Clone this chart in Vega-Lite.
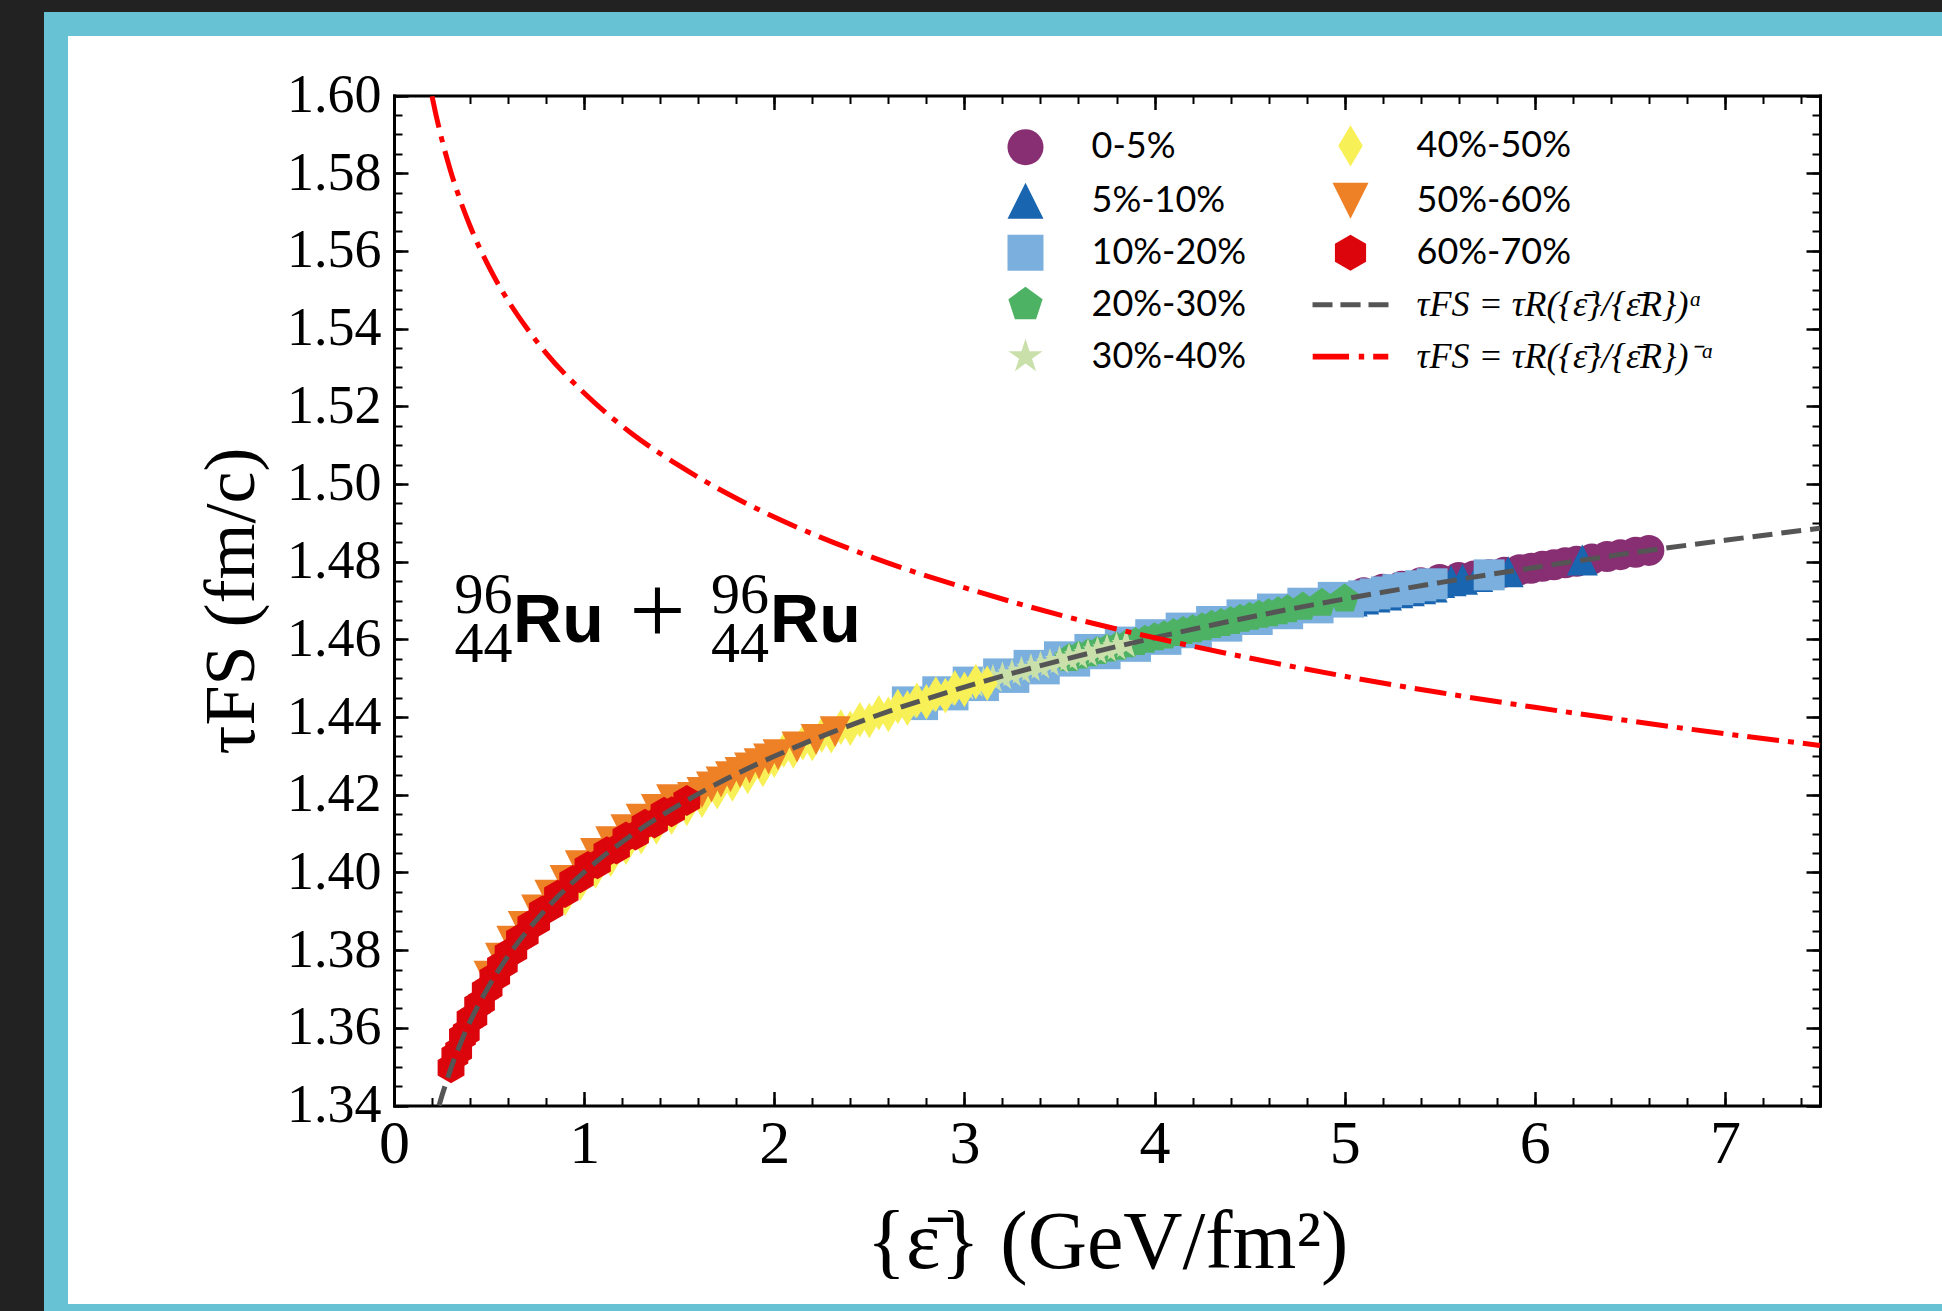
{
"$schema": "https://vega.github.io/schema/vega-lite/v6.json",
"autosize": {"type": "none"},
"width": 1898,
"height": 1292,
"padding": {"left": 56, "top": 24, "right": -12, "bottom": -5},
"background": "#222222",
"config": {
 "view": {"stroke": "#67c3d3", "strokeWidth": 24, "fill": "white"},
 "axis": {"grid": false, "domainColor": "black", "tickColor": "black", "labelColor": "black", "titleColor": "black", "domainCap": "square"}
},
"datasets": {
 "pts": [
  {"c":"0-5%","e":5.10,"t":1.4720},{"c":"0-5%","e":5.20,"t":1.4729},{"c":"0-5%","e":5.30,"t":1.4737},{"c":"0-5%","e":5.40,"t":1.4746},{"c":"0-5%","e":5.50,"t":1.4754},{"c":"0-5%","e":5.60,"t":1.4759},{"c":"0-5%","e":5.68,"t":1.4763},{"c":"0-5%","e":5.76,"t":1.4766},{"c":"0-5%","e":5.84,"t":1.4773},{"c":"0-5%","e":5.92,"t":1.4779},{"c":"0-5%","e":5.98,"t":1.4783},{"c":"0-5%","e":6.04,"t":1.4788},{"c":"0-5%","e":6.10,"t":1.4792},{"c":"0-5%","e":6.16,"t":1.4797},{"c":"0-5%","e":6.22,"t":1.4801},{"c":"0-5%","e":6.30,"t":1.4807},{"c":"0-5%","e":6.38,"t":1.4813},{"c":"0-5%","e":6.45,"t":1.4818},{"c":"0-5%","e":6.53,"t":1.4824},{"c":"0-5%","e":6.60,"t":1.4829},
  {"c":"5%-10%","e":5.04,"t":1.4699},{"c":"5%-10%","e":5.10,"t":1.4704},{"c":"5%-10%","e":5.16,"t":1.4709},{"c":"5%-10%","e":5.22,"t":1.4714},{"c":"5%-10%","e":5.28,"t":1.4720},{"c":"5%-10%","e":5.34,"t":1.4725},{"c":"5%-10%","e":5.40,"t":1.4730},{"c":"5%-10%","e":5.46,"t":1.4735},{"c":"5%-10%","e":5.50,"t":1.4746},{"c":"5%-10%","e":5.56,"t":1.4751},{"c":"5%-10%","e":5.62,"t":1.4755},{"c":"5%-10%","e":5.70,"t":1.4762},{"c":"5%-10%","e":5.86,"t":1.4774},{"c":"5%-10%","e":6.25,"t":1.4804},
  {"c":"10%-20%","e":2.70,"t":1.4439},{"c":"10%-20%","e":2.78,"t":1.4432},{"c":"10%-20%","e":2.86,"t":1.4465},{"c":"10%-20%","e":2.94,"t":1.4457},{"c":"10%-20%","e":3.02,"t":1.4490},{"c":"10%-20%","e":3.10,"t":1.4481},{"c":"10%-20%","e":3.18,"t":1.4511},{"c":"10%-20%","e":3.26,"t":1.4502},{"c":"10%-20%","e":3.34,"t":1.4533},{"c":"10%-20%","e":3.42,"t":1.4524},{"c":"10%-20%","e":3.50,"t":1.4555},{"c":"10%-20%","e":3.58,"t":1.4544},{"c":"10%-20%","e":3.66,"t":1.4574},{"c":"10%-20%","e":3.74,"t":1.4563},{"c":"10%-20%","e":3.82,"t":1.4593},{"c":"10%-20%","e":3.90,"t":1.4582},{"c":"10%-20%","e":3.98,"t":1.4612},{"c":"10%-20%","e":4.06,"t":1.4600},{"c":"10%-20%","e":4.14,"t":1.4629},{"c":"10%-20%","e":4.22,"t":1.4617},{"c":"10%-20%","e":4.30,"t":1.4646},{"c":"10%-20%","e":4.38,"t":1.4634},{"c":"10%-20%","e":4.46,"t":1.4663},{"c":"10%-20%","e":4.54,"t":1.4651},{"c":"10%-20%","e":4.62,"t":1.4678},{"c":"10%-20%","e":4.70,"t":1.4666},{"c":"10%-20%","e":4.78,"t":1.4693},{"c":"10%-20%","e":4.86,"t":1.4681},{"c":"10%-20%","e":4.94,"t":1.4708},{"c":"10%-20%","e":5.02,"t":1.4696},{"c":"10%-20%","e":5.10,"t":1.4712},{"c":"10%-20%","e":5.16,"t":1.4717},{"c":"10%-20%","e":5.22,"t":1.4722},{"c":"10%-20%","e":5.28,"t":1.4728},{"c":"10%-20%","e":5.34,"t":1.4733},{"c":"10%-20%","e":5.40,"t":1.4738},{"c":"10%-20%","e":5.46,"t":1.4743},{"c":"10%-20%","e":5.76,"t":1.4766},
  {"c":"20%-30%","e":3.55,"t":1.4551},{"c":"20%-30%","e":3.60,"t":1.4557},{"c":"20%-30%","e":3.65,"t":1.4563},{"c":"20%-30%","e":3.70,"t":1.4569},{"c":"20%-30%","e":3.75,"t":1.4575},{"c":"20%-30%","e":3.80,"t":1.4580},{"c":"20%-30%","e":3.85,"t":1.4586},{"c":"20%-30%","e":3.90,"t":1.4592},{"c":"20%-30%","e":3.95,"t":1.4598},{"c":"20%-30%","e":4.00,"t":1.4604},{"c":"20%-30%","e":4.05,"t":1.4609},{"c":"20%-30%","e":4.10,"t":1.4615},{"c":"20%-30%","e":4.15,"t":1.4620},{"c":"20%-30%","e":4.20,"t":1.4625},{"c":"20%-30%","e":4.25,"t":1.4630},{"c":"20%-30%","e":4.30,"t":1.4636},{"c":"20%-30%","e":4.35,"t":1.4641},{"c":"20%-30%","e":4.40,"t":1.4646},{"c":"20%-30%","e":4.45,"t":1.4652},{"c":"20%-30%","e":4.50,"t":1.4657},{"c":"20%-30%","e":4.55,"t":1.4662},{"c":"20%-30%","e":4.60,"t":1.4666},{"c":"20%-30%","e":4.65,"t":1.4671},{"c":"20%-30%","e":4.70,"t":1.4676},{"c":"20%-30%","e":4.78,"t":1.4683},{"c":"20%-30%","e":4.88,"t":1.4693},{"c":"20%-30%","e":5.00,"t":1.4704},
  {"c":"30%-40%","e":2.70,"t":1.4429},{"c":"30%-40%","e":2.75,"t":1.4437},{"c":"30%-40%","e":2.80,"t":1.4445},{"c":"30%-40%","e":2.85,"t":1.4453},{"c":"30%-40%","e":2.90,"t":1.4461},{"c":"30%-40%","e":2.95,"t":1.4469},{"c":"30%-40%","e":3.00,"t":1.4477},{"c":"30%-40%","e":3.05,"t":1.4484},{"c":"30%-40%","e":3.10,"t":1.4491},{"c":"30%-40%","e":3.15,"t":1.4497},{"c":"30%-40%","e":3.20,"t":1.4504},{"c":"30%-40%","e":3.25,"t":1.4511},{"c":"30%-40%","e":3.30,"t":1.4518},{"c":"30%-40%","e":3.35,"t":1.4525},{"c":"30%-40%","e":3.40,"t":1.4531},{"c":"30%-40%","e":3.45,"t":1.4538},{"c":"30%-40%","e":3.50,"t":1.4545},{"c":"30%-40%","e":3.55,"t":1.4551},{"c":"30%-40%","e":3.60,"t":1.4557},{"c":"30%-40%","e":3.65,"t":1.4563},{"c":"30%-40%","e":3.70,"t":1.4569},{"c":"30%-40%","e":3.75,"t":1.4575},{"c":"30%-40%","e":3.80,"t":1.4580},{"c":"30%-40%","e":3.85,"t":1.4586},
  {"c":"40%-50%","e":0.90,"t":1.3934},{"c":"40%-50%","e":0.98,"t":1.3972},{"c":"40%-50%","e":1.06,"t":1.4004},{"c":"40%-50%","e":1.14,"t":1.4034},{"c":"40%-50%","e":1.22,"t":1.4065},{"c":"40%-50%","e":1.30,"t":1.4092},{"c":"40%-50%","e":1.38,"t":1.4117},{"c":"40%-50%","e":1.46,"t":1.4142},{"c":"40%-50%","e":1.54,"t":1.4165},{"c":"40%-50%","e":1.62,"t":1.4186},{"c":"40%-50%","e":1.70,"t":1.4208},{"c":"40%-50%","e":1.78,"t":1.4228},{"c":"40%-50%","e":1.86,"t":1.4247},{"c":"40%-50%","e":1.94,"t":1.4265},{"c":"40%-50%","e":2.00,"t":1.4289},{"c":"40%-50%","e":2.05,"t":1.4315},{"c":"40%-50%","e":2.10,"t":1.4313},{"c":"40%-50%","e":2.15,"t":1.4334},{"c":"40%-50%","e":2.20,"t":1.4332},{"c":"40%-50%","e":2.25,"t":1.4354},{"c":"40%-50%","e":2.30,"t":1.4352},{"c":"40%-50%","e":2.35,"t":1.4374},{"c":"40%-50%","e":2.40,"t":1.4371},{"c":"40%-50%","e":2.45,"t":1.4393},{"c":"40%-50%","e":2.50,"t":1.4391},{"c":"40%-50%","e":2.55,"t":1.4411},{"c":"40%-50%","e":2.60,"t":1.4407},{"c":"40%-50%","e":2.65,"t":1.4427},{"c":"40%-50%","e":2.70,"t":1.4423},{"c":"40%-50%","e":2.75,"t":1.4443},{"c":"40%-50%","e":2.80,"t":1.4439},{"c":"40%-50%","e":2.85,"t":1.4459},{"c":"40%-50%","e":2.90,"t":1.4455},{"c":"40%-50%","e":2.95,"t":1.4475},{"c":"40%-50%","e":3.00,"t":1.4471},{"c":"40%-50%","e":3.06,"t":1.4491},{"c":"40%-50%","e":3.12,"t":1.4487},
  {"c":"50%-60%","e":0.50,"t":1.3733},{"c":"50%-60%","e":0.56,"t":1.3779},{"c":"50%-60%","e":0.62,"t":1.3823},{"c":"50%-60%","e":0.68,"t":1.3861},{"c":"50%-60%","e":0.75,"t":1.3903},{"c":"50%-60%","e":0.82,"t":1.3941},{"c":"50%-60%","e":0.90,"t":1.3979},{"c":"50%-60%","e":0.98,"t":1.4017},{"c":"50%-60%","e":1.06,"t":1.4049},{"c":"50%-60%","e":1.14,"t":1.4079},{"c":"50%-60%","e":1.22,"t":1.4110},{"c":"50%-60%","e":1.30,"t":1.4137},{"c":"50%-60%","e":1.38,"t":1.4162},{"c":"50%-60%","e":1.46,"t":1.4187},{"c":"50%-60%","e":1.52,"t":1.4179},{"c":"50%-60%","e":1.57,"t":1.4193},{"c":"50%-60%","e":1.62,"t":1.4206},{"c":"50%-60%","e":1.67,"t":1.4220},{"c":"50%-60%","e":1.72,"t":1.4233},{"c":"50%-60%","e":1.77,"t":1.4246},{"c":"50%-60%","e":1.82,"t":1.4257},{"c":"50%-60%","e":1.87,"t":1.4269},{"c":"50%-60%","e":1.92,"t":1.4280},{"c":"50%-60%","e":1.97,"t":1.4292},{"c":"50%-60%","e":2.02,"t":1.4303},{"c":"50%-60%","e":2.12,"t":1.4323},{"c":"50%-60%","e":2.22,"t":1.4342},{"c":"50%-60%","e":2.32,"t":1.4362},
  {"c":"60%-70%","e":0.30,"t":1.3497},{"c":"60%-70%","e":0.32,"t":1.3528},{"c":"60%-70%","e":0.34,"t":1.3541},{"c":"60%-70%","e":0.36,"t":1.3577},{"c":"60%-70%","e":0.38,"t":1.3588},{"c":"60%-70%","e":0.40,"t":1.3622},{"c":"60%-70%","e":0.42,"t":1.3628},{"c":"60%-70%","e":0.44,"t":1.3659},{"c":"60%-70%","e":0.46,"t":1.3665},{"c":"60%-70%","e":0.48,"t":1.3696},{"c":"60%-70%","e":0.50,"t":1.3702},{"c":"60%-70%","e":0.52,"t":1.3729},{"c":"60%-70%","e":0.54,"t":1.3733},{"c":"60%-70%","e":0.56,"t":1.3760},{"c":"60%-70%","e":0.58,"t":1.3764},{"c":"60%-70%","e":0.60,"t":1.3791},{"c":"60%-70%","e":0.63,"t":1.3798},{"c":"60%-70%","e":0.66,"t":1.3829},{"c":"60%-70%","e":0.69,"t":1.3837},{"c":"60%-70%","e":0.72,"t":1.3866},{"c":"60%-70%","e":0.75,"t":1.3872},{"c":"60%-70%","e":0.78,"t":1.3901},{"c":"60%-70%","e":0.82,"t":1.3910},{"c":"60%-70%","e":0.86,"t":1.3941},{"c":"60%-70%","e":0.90,"t":1.3948},{"c":"60%-70%","e":0.94,"t":1.3979},{"c":"60%-70%","e":0.98,"t":1.3986},{"c":"60%-70%","e":1.02,"t":1.4015},{"c":"60%-70%","e":1.07,"t":1.4022},{"c":"60%-70%","e":1.12,"t":1.4053},{"c":"60%-70%","e":1.17,"t":1.4060},{"c":"60%-70%","e":1.22,"t":1.4091},{"c":"60%-70%","e":1.27,"t":1.4096},{"c":"60%-70%","e":1.32,"t":1.4124},{"c":"60%-70%","e":1.37,"t":1.4127},{"c":"60%-70%","e":1.42,"t":1.4155},{"c":"60%-70%","e":1.46,"t":1.4156},{"c":"60%-70%","e":1.54,"t":1.4185}
 ],
 "dash": [
  {"e":0.237,"t":1.3400},{"e":0.25,"t":1.3422},{"e":0.28,"t":1.3467},{"e":0.30,"t":1.3497},{"e":0.35,"t":1.3560},{"e":0.40,"t":1.3616},{"e":0.45,"t":1.3664},{"e":0.50,"t":1.3708},{"e":0.60,"t":1.3785},{"e":0.70,"t":1.3849},{"e":0.80,"t":1.3906},{"e":0.90,"t":1.3956},{"e":1.00,"t":1.4001},{"e":1.25,"t":1.4096},{"e":1.50,"t":1.4174},{"e":1.75,"t":1.4241},{"e":2.00,"t":1.4299},{"e":2.50,"t":1.4397},{"e":3.00,"t":1.4477},{"e":3.50,"t":1.4545},{"e":4.00,"t":1.4604},{"e":4.50,"t":1.4657},{"e":5.00,"t":1.4704},{"e":5.50,"t":1.4746},{"e":6.00,"t":1.4785},{"e":6.50,"t":1.4822},{"e":7.00,"t":1.4855},{"e":7.50,"t":1.4886}
 ],
 "dd": [
  {"e":0.20,"t":1.5998},{"e":0.22,"t":1.5952},{"e":0.25,"t":1.5890},{"e":0.30,"t":1.5802},{"e":0.35,"t":1.5728},{"e":0.40,"t":1.5664},{"e":0.50,"t":1.5558},{"e":0.60,"t":1.5472},{"e":0.70,"t":1.5400},{"e":0.80,"t":1.5337},{"e":1.00,"t":1.5234},{"e":1.25,"t":1.5130},{"e":1.50,"t":1.5047},{"e":1.75,"t":1.4976},{"e":2.00,"t":1.4915},{"e":2.50,"t":1.4814},{"e":3.00,"t":1.4733},{"e":3.50,"t":1.4663},{"e":4.00,"t":1.4604},{"e":4.50,"t":1.4552},{"e":5.00,"t":1.4505},{"e":5.50,"t":1.4463},{"e":6.00,"t":1.4425},{"e":6.50,"t":1.4390},{"e":7.00,"t":1.4357},{"e":7.50,"t":1.4327}
 ],
 "nums": [
  {"e":0.471,"t":1.4668,"s":"96"},{"e":0.471,"t":1.4542,"s":"44"},{"e":1.820,"t":1.4668,"s":"96"},{"e":1.820,"t":1.4542,"s":"44"}
 ],
 "plus": [{"e":1.386,"t":1.4587,"s":"+"}],
 "ru": [{"e":0.626,"t":1.4593,"s":"Ru"},{"e":1.978,"t":1.4593,"s":"Ru"}]
},
"resolve": {"axis": {"x": "independent", "y": "independent"}},
"layer": [
 {
  "data": {"name": "pts"},
  "mark": {"type": "point", "filled": true, "size": 960, "opacity": 1, "strokeWidth": 0},
  "encoding": {
   "x": {"field": "e", "type": "quantitative",
     "scale": {"domain": [0, 7.5], "range": [338, 1764], "nice": false, "zero": false},
     "axis": {"orient": "bottom", "offset": -210.5, "values": [0,1,2,3,4,5,6,7], "format": "d", "ticks": false, "domain": false, "labelFont": "Liberation Serif", "labelFontSize": 62, "labelPadding": 8, "labelFlush": false, "labelOverlap": false, "labelBaseline": "top", "title": "{ε̄} (GeV/fm²)", "titleFont": "Liberation Serif", "titleFontSize": 82, "titleFontWeight": "normal", "titleBaseline": "alphabetic", "titleY": 161.5}},
   "y": {"field": "t", "type": "quantitative",
     "scale": {"domain": [1.34, 1.6], "range": [1081.5, 71.5], "nice": false, "zero": false},
     "axis": {"orient": "left", "offset": -338, "values": [1.34,1.36,1.38,1.4,1.42,1.44,1.46,1.48,1.5,1.52,1.54,1.56,1.58,1.6], "format": ".2f", "ticks": false, "domain": false, "labelFont": "Liberation Serif", "labelFontSize": 54, "labelPadding": 13, "labelFlush": false, "labelOverlap": false, "title": "τFS (fm/c)", "titleFont": "Liberation Serif", "titleFontSize": 72, "titleFontWeight": "normal", "titleBaseline": "alphabetic", "titleAngle": -90, "titleX": -141}},
   "color": {"field": "c", "type": "nominal",
     "scale": {"domain": ["0-5%","5%-10%","10%-20%","20%-30%","30%-40%","40%-50%","50%-60%","60%-70%","τFS = τR({ε̄}/{ε̄R})ᵅ","τFS = τR({ε̄}/{ε̄R})⁻ᵅ"],
               "range": ["#882E72","#1965B0","#7BAFDE","#4EB265","#CAE0AB","#F7F056","#EE8026","#DC050C","#555555","#FF0000"]},
     "legend": {"orient": "none", "legendX": 951.5, "legendY": 103.7, "columns": 2, "title": null, "padding": 0, "symbolSize": 1296, "symbolStrokeWidth": 0, "symbolOpacity": 1, "labelFont": "Lato", "labelFontSize": 36, "labelColor": "black", "labelOffset": 48, "labelLimit": 600, "rowPadding": 16, "columnPadding": 66,
       "encode": {"labels": {"update": {"font": {"signal": "indexof(datum.label, '=') >= 0 ? 'Liberation Serif' : 'Lato'"}, "fontStyle": {"signal": "indexof(datum.label, '=') >= 0 ? 'italic' : 'normal'"}}}}}},
   "shape": {"field": "c", "type": "nominal",
     "scale": {"domain": ["0-5%","5%-10%","10%-20%","20%-30%","30%-40%","40%-50%","50%-60%","60%-70%","τFS = τR({ε̄}/{ε̄R})ᵅ","τFS = τR({ε̄}/{ε̄R})⁻ᵅ"],
               "range": ["circle",
                         "M0,-1L1,1L-1,1Z",
                         "square",
                         "M0,-1L0.951,-0.309L0.588,0.809L-0.588,0.809L-0.951,-0.309Z",
                         "M0,-1L0.225,-0.309L0.951,-0.309L0.363,0.118L0.588,0.809L0,0.382L-0.588,0.809L-0.363,0.118L-0.951,-0.309L-0.225,-0.309Z",
                         "M0,-1.15L0.68,0L0,1.15L-0.68,0Z",
                         "M-1,-1L1,-1L0,1Z",
                         "M0,-1L0.866,-0.5L0.866,0.5L0,1L-0.866,0.5L-0.866,-0.5Z",
                         "M-2.11,-0.14H-1V0.14H-2.11Z M-0.56,-0.14H0.56V0.14H-0.56Z M1,-0.14H2.11V0.14H1Z",
                         "M-2.1,-0.16H-0.08V0.16H-2.1Z M0.46,-0.16H0.76V0.16H0.46Z M1.26,-0.16H2.1V0.16H1.26Z"]},
     "legend": {"orient": "none", "legendX": 951.5, "legendY": 103.7, "columns": 2, "title": null, "padding": 0, "symbolSize": 1296, "symbolStrokeWidth": 0, "symbolOpacity": 1, "labelFont": "Lato", "labelFontSize": 36, "labelColor": "black", "labelOffset": 48, "labelLimit": 600, "rowPadding": 16, "columnPadding": 66,
       "encode": {"labels": {"update": {"font": {"signal": "indexof(datum.label, '=') >= 0 ? 'Liberation Serif' : 'Lato'"}, "fontStyle": {"signal": "indexof(datum.label, '=') >= 0 ? 'italic' : 'normal'"}}}}}}
  }
 },
 {
  "data": {"name": "dash"},
  "mark": {"type": "line", "color": "#555555", "strokeWidth": 5, "strokeDash": [20, 9], "interpolate": "monotone"},
  "encoding": {
   "x": {"field": "e", "type": "quantitative", "scale": {"domain": [0, 7.5], "range": [338, 1764], "nice": false, "zero": false},
     "axis": {"orient": "bottom", "offset": -210.5, "values": [0,1,2,3,4,5,6,7], "labels": false, "ticks": true, "tickSize": -14, "tickWidth": 2.5, "domain": true, "domainWidth": 3, "title": null}},
   "y": {"field": "t", "type": "quantitative", "scale": {"domain": [1.34, 1.6], "range": [1081.5, 71.5], "nice": false, "zero": false},
     "axis": {"orient": "left", "offset": -338, "values": [1.34,1.36,1.38,1.4,1.42,1.44,1.46,1.48,1.5,1.52,1.54,1.56,1.58,1.6], "labels": false, "ticks": true, "tickSize": -14, "tickWidth": 2.5, "domain": true, "domainWidth": 3, "title": null}}
  }
 },
 {
  "data": {"name": "dd"},
  "mark": {"type": "line", "color": "#FF0000", "strokeWidth": 5, "strokeDash": [32, 9, 6, 9], "interpolate": "monotone"},
  "encoding": {
   "x": {"field": "e", "type": "quantitative", "scale": {"domain": [0, 7.5], "range": [338, 1764], "nice": false, "zero": false},
     "axis": {"orient": "bottom", "offset": -210.5, "values": [0,0.2,0.4,0.6,0.8,1,1.2,1.4,1.6,1.8,2,2.2,2.4,2.6,2.8,3,3.2,3.4,3.6,3.8,4,4.2,4.4,4.6,4.8,5,5.2,5.4,5.6,5.8,6,6.2,6.4,6.6,6.8,7,7.2,7.4], "labels": false, "ticks": true, "tickSize": -8, "tickWidth": 2, "domain": false, "title": null}},
   "y": {"field": "t", "type": "quantitative", "scale": {"domain": [1.34, 1.6], "range": [1081.5, 71.5], "nice": false, "zero": false},
     "axis": {"orient": "left", "offset": -338, "values": [1.34,1.345,1.35,1.355,1.36,1.365,1.37,1.375,1.38,1.385,1.39,1.395,1.4,1.405,1.41,1.415,1.42,1.425,1.43,1.435,1.44,1.445,1.45,1.455,1.46,1.465,1.47,1.475,1.48,1.485,1.49,1.495,1.5,1.505,1.51,1.515,1.52,1.525,1.53,1.535,1.54,1.545,1.55,1.555,1.56,1.565,1.57,1.575,1.58,1.585,1.59,1.595,1.6], "labels": false, "ticks": true, "tickSize": -8, "tickWidth": 2, "domain": false, "title": null}}
  }
 },
 {
  "data": {"name": "nums"},
  "mark": {"type": "text", "font": "Liberation Serif", "fontSize": 58, "align": "center", "baseline": "alphabetic", "color": "black"},
  "encoding": {
   "x": {"field": "e", "type": "quantitative", "scale": {"domain": [0, 7.5], "range": [338, 1764], "nice": false, "zero": false},
     "axis": {"orient": "top", "offset": -71.5, "values": [0,1,2,3,4,5,6,7], "labels": false, "ticks": true, "tickSize": -14, "tickWidth": 2.5, "domain": true, "domainWidth": 3, "title": null}},
   "y": {"field": "t", "type": "quantitative", "scale": {"domain": [1.34, 1.6], "range": [1081.5, 71.5], "nice": false, "zero": false},
     "axis": {"orient": "right", "offset": -134, "values": [1.34,1.36,1.38,1.4,1.42,1.44,1.46,1.48,1.5,1.52,1.54,1.56,1.58,1.6], "labels": false, "ticks": true, "tickSize": -14, "tickWidth": 2.5, "domain": true, "domainWidth": 3, "title": null}},
   "text": {"field": "s", "type": "nominal"}
  }
 },
 {
  "data": {"name": "plus"},
  "mark": {"type": "text", "font": "Liberation Serif", "fontSize": 100, "align": "center", "baseline": "alphabetic", "color": "black"},
  "encoding": {
   "x": {"field": "e", "type": "quantitative", "scale": {"domain": [0, 7.5], "range": [338, 1764], "nice": false, "zero": false},
     "axis": {"orient": "top", "offset": -71.5, "values": [0,0.2,0.4,0.6,0.8,1,1.2,1.4,1.6,1.8,2,2.2,2.4,2.6,2.8,3,3.2,3.4,3.6,3.8,4,4.2,4.4,4.6,4.8,5,5.2,5.4,5.6,5.8,6,6.2,6.4,6.6,6.8,7,7.2,7.4], "labels": false, "ticks": true, "tickSize": -8, "tickWidth": 2, "domain": false, "title": null}},
   "y": {"field": "t", "type": "quantitative", "scale": {"domain": [1.34, 1.6], "range": [1081.5, 71.5], "nice": false, "zero": false},
     "axis": {"orient": "right", "offset": -134, "values": [1.34,1.345,1.35,1.355,1.36,1.365,1.37,1.375,1.38,1.385,1.39,1.395,1.4,1.405,1.41,1.415,1.42,1.425,1.43,1.435,1.44,1.445,1.45,1.455,1.46,1.465,1.47,1.475,1.48,1.485,1.49,1.495,1.5,1.505,1.51,1.515,1.52,1.525,1.53,1.535,1.54,1.545,1.55,1.555,1.56,1.565,1.57,1.575,1.58,1.585,1.59,1.595,1.6], "labels": false, "ticks": true, "tickSize": -8, "tickWidth": 2, "domain": false, "title": null}},
   "text": {"field": "s", "type": "nominal"}
  }
 },
 {
  "data": {"name": "ru"},
  "mark": {"type": "text", "font": "Liberation Sans", "fontWeight": "bold", "fontSize": 68, "align": "left", "baseline": "alphabetic", "color": "black"},
  "encoding": {
   "x": {"field": "e", "type": "quantitative", "scale": {"domain": [0, 7.5], "range": [338, 1764], "nice": false, "zero": false}, "axis": null},
   "y": {"field": "t", "type": "quantitative", "scale": {"domain": [1.34, 1.6], "range": [1081.5, 71.5], "nice": false, "zero": false}, "axis": null},
   "text": {"field": "s", "type": "nominal"}
  }
 }
]
}
